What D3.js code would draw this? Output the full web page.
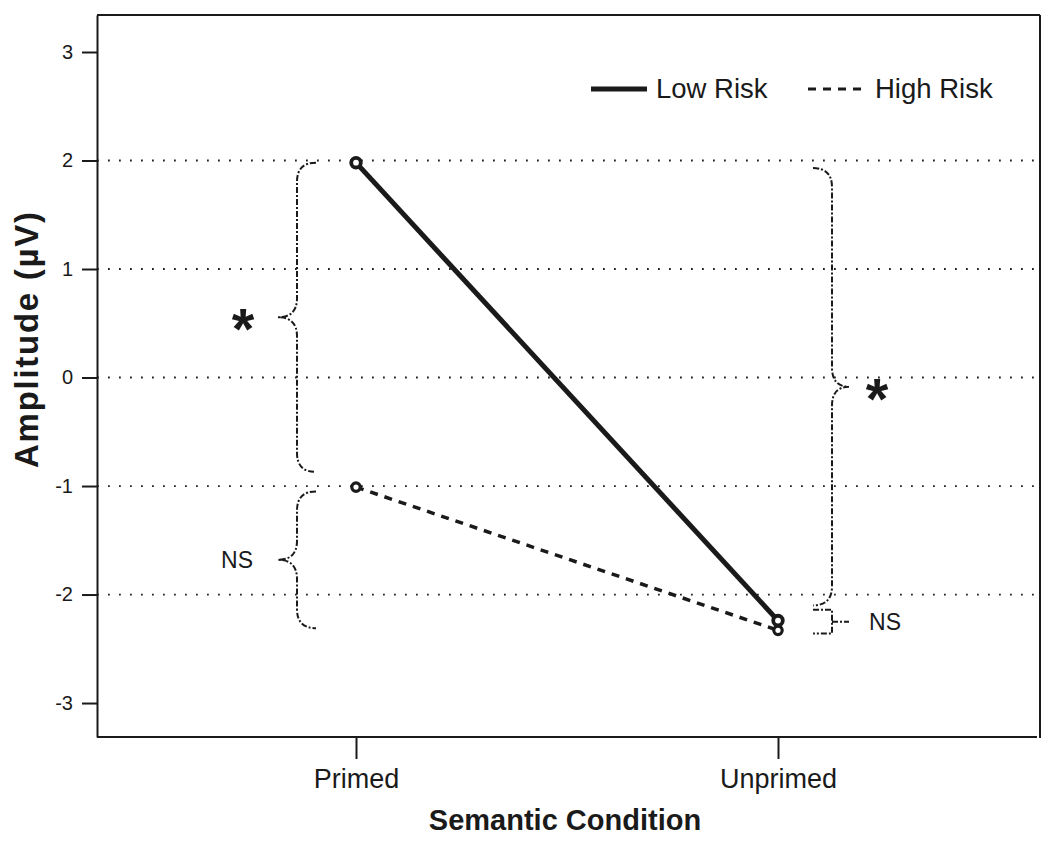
<!DOCTYPE html>
<html><head><meta charset="utf-8">
<script src="https://cdn.jsdelivr.net/npm/d3@7"></script>
<style>body{margin:0;background:#fff}svg{display:block}text{font-family:"Liberation Sans",Arial,sans-serif;fill:#1a1a1a}</style>
</head><body><svg id="c" width="1050" height="843"></svg>
<script>
const categories = ["Primed", "Unprimed"];
const seriesNames = ["Low Risk", "High Risk"];
const lowRisk = [1.98, -2.24];
const highRisk = [-1.01, -2.33];
const yTicks = [3, 2, 1, 0, -1, -2, -3];
const yTickLabels = ["3", "2", "1", "0", "-1", "-2", "-3"];
const gridValues = [2, 1, 0, -1, -2];
// brace annotations: category index, side, top value, bottom value, label
const braceCat = [0, 0, 1, 1];
const braceSide = [-1, -1, 1, 1];
const braceTop = [1.98, -1.05, 1.93, -2.14];
const braceBot = [-0.87, -2.31, -2.10, -2.36];
const braceLabel = ["*", "NS", "*", "NS"];

const svg = d3.select("#c");
const L = 97, R = 1040, T = 15, B = 737;
const ink = "#1a1a1a";
const FF = '"Liberation Sans",Arial,sans-serif';
const y = d3.scaleLinear().domain([-3.313, 3.341]).range([B, T]);
const x = d3.scalePoint().domain(categories).range([356, 778]);

// grid
svg.append("g").selectAll("line").data(gridValues).join("line")
  .attr("x1", L).attr("x2", R).attr("y1", d => y(d)).attr("y2", d => y(d))
  .attr("stroke", "#222").attr("stroke-width", 1.8).attr("stroke-dasharray", "1.8,9.2");

// frame top/right
svg.append("line").attr("x1", L).attr("x2", R).attr("y1", T).attr("y2", T).attr("stroke", ink).attr("stroke-width", 2);
svg.append("line").attr("x1", R).attr("x2", R).attr("y1", T).attr("y2", B+1).attr("stroke", ink).attr("stroke-width", 2);

// y axis
const ya = svg.append("g").attr("transform", `translate(${L},0)`)
  .call(d3.axisLeft(y).tickValues(yTicks).tickSize(15).tickPadding(9).tickSizeOuter(0)
    .tickFormat(d => yTickLabels[yTicks.indexOf(d)]));
ya.select(".domain").attr("stroke", ink).attr("stroke-width", 2);
ya.selectAll(".tick line").attr("stroke", ink).attr("stroke-width", 2);
ya.selectAll("text").attr("font-size", 20).attr("fill", ink).style("font-family", FF);

// x axis
const xa = svg.append("g").attr("transform", `translate(0,${B})`)
  .call(d3.axisBottom(x).tickSize(22).tickPadding(10).tickSizeOuter(0));
xa.select(".domain").attr("d", `M${L},0H${R-3}`).attr("stroke", ink).attr("stroke-width", 2);
xa.selectAll(".tick line").attr("stroke", ink).attr("stroke-width", 2);
xa.selectAll("text").attr("font-size", 27).attr("fill", ink).attr("dy", "0.71em").style("font-family", FF);

// axis titles
svg.append("text").attr("x", 565).attr("y", 830).attr("text-anchor", "middle")
  .attr("font-size", 29).attr("font-weight", "bold").text("Semantic Condition");
svg.append("text").attr("transform", "translate(38,340) rotate(-90)").attr("text-anchor", "middle")
  .attr("font-size", 33).attr("font-weight", "bold").attr("textLength", 256).attr("lengthAdjust", "spacing").text("Amplitude (µV)");

// lines
const line = d3.line().x((d, i) => x(categories[i])).y(d => y(d));
svg.append("path").datum(highRisk).attr("d", line).attr("fill", "none")
  .attr("stroke", ink).attr("stroke-width", 3.5).attr("stroke-dasharray", "8,7");
svg.append("path").datum(lowRisk).attr("d", line).attr("fill", "none")
  .attr("stroke", ink).attr("stroke-width", 5);
svg.append("g").selectAll("circle").data(highRisk).join("circle")
  .attr("cx", (d, i) => x(categories[i])).attr("cy", d => y(d)).attr("r", 4.2)
  .attr("fill", "#fff").attr("stroke", ink).attr("stroke-width", 3.2);
svg.append("g").selectAll("circle").data(lowRisk).join("circle")
  .attr("cx", (d, i) => x(categories[i])).attr("cy", d => y(d)).attr("r", 4.8)
  .attr("fill", "#fff").attr("stroke", ink).attr("stroke-width", 3.8);

// braces
braceTop.forEach((tv, k) => {
  const s = braceSide[k];
  const cx = x(categories[braceCat[k]]);
  const xe = cx + s * (s < 0 ? 40 : 35);
  const xs = cx + s * (s < 0 ? 59 : 54);
  const xt = cx + s * (s < 0 ? 78 : 71);
  const y1 = y(tv), y2 = y(braceBot[k]), ym = (y1 + y2) / 2;
  const r = Math.min(19, (y2 - y1) / 4);
  let d;
  if (braceLabel[k] === "NS" && s > 0) {
    d = `M${xe},${y1}H${xs}V${y2}H${xe}M${xs},${ym}H${xt}`;
  } else {
    d = `M${xe},${y1}Q${xs},${y1} ${xs},${y1 + r}V${ym - r}Q${xs},${ym} ${xt},${ym}` +
        `Q${xs},${ym} ${xs},${ym + r}V${y2 - r}Q${xs},${y2} ${xe},${y2}`;
  }
  svg.append("path").attr("d", d).attr("fill", "none").attr("stroke", ink)
    .attr("stroke-width", 2).attr("stroke-dasharray", "6,2,2,2");
  const lab = svg.append("text").attr("text-anchor", "middle").attr("fill", ink).text(braceLabel[k]);
  if (braceLabel[k] === "*") {
    lab.attr("x", xt + (s < 0 ? -35 : 28)).attr("y", ym + 32).attr("font-size", 58).attr("font-weight", "bold");
  } else {
    lab.attr("x", s < 0 ? xt - 41 : xt + 36).attr("y", ym + 8.5).attr("font-size", 23);
  }
});

// legend
const lg = svg.append("g");
lg.append("line").attr("x1", 591).attr("x2", 647).attr("y1", 89).attr("y2", 89).attr("stroke", ink).attr("stroke-width", 5);
lg.append("text").attr("x", 656).attr("y", 98).attr("font-size", 27.5).text(seriesNames[0]);
lg.append("line").attr("x1", 808).attr("x2", 868).attr("y1", 89).attr("y2", 89).attr("stroke", ink).attr("stroke-width", 3).attr("stroke-dasharray", "8,7");
lg.append("text").attr("x", 875).attr("y", 98).attr("font-size", 27.5).text(seriesNames[1]);
</script></body></html>
